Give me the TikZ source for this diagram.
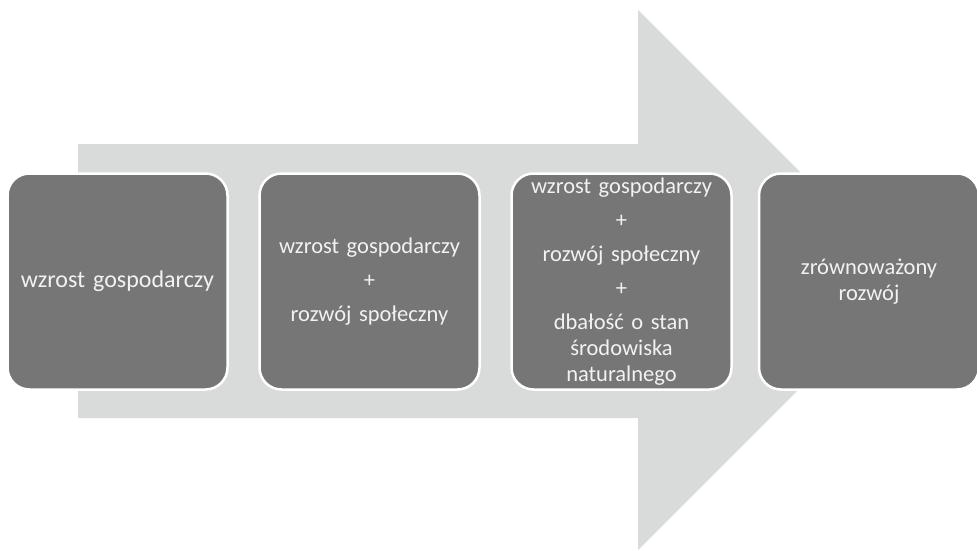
\documentclass[tikz,border=0pt]{standalone}
\usepackage{fontspec}
\setmainfont{Carlito}
\definecolor{arrowgray}{HTML}{D9DADA}
\definecolor{boxgray}{HTML}{767676}
\definecolor{boxtext}{HTML}{F2F2F2}
\tikzset{
  stage/.style={draw=white, line width=2.5pt, fill=boxgray, rounded corners=22pt,
    minimum width=220pt, minimum height=216pt, text width=214pt, align=center,
    text=boxtext, font=\fontsize{22.5}{26}\selectfont, inner sep=0pt}
}
\begin{document}
\begin{tikzpicture}[x=1pt,y=-1pt]
\useasboundingbox (0,0) rectangle (977,551);
% big arrow in the background
\fill[arrowgray] (78,144) -- (638,144) -- (638,10) -- (908,280) -- (638,550) -- (638,418) -- (78,418) -- cycle;

\node[stage, font=\fontsize{24}{28}\selectfont] (growth) at (117.5,281.5) {wzrost gospodarczy};
\node[stage] (social) at (369.5,281.5) {wzrost gospodarczy\\[8pt] +\\[8pt] rozwój społeczny};
\node[stage] (environment) at (621.5,281.5) {wzrost gospodarczy\\[8pt] +\\[8pt] rozwój społeczny\\[8pt] +\\[8pt] dbałość o stan\\ środowiska\\ naturalnego};
\node[stage] (sustainable) at (869,281.5) {zrównoważony\\ rozwój};
\end{tikzpicture}
\end{document}
